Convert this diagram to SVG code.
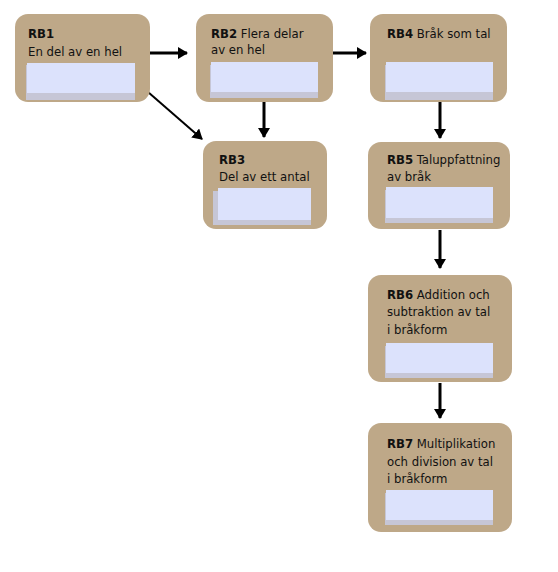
<svg xmlns="http://www.w3.org/2000/svg" width="558" height="572" viewBox="0 0 558 572">
<defs>
<style>
.box{fill:#BEA888}
.sh{fill:#C6C6D6}
.in{fill:#DCE2FC}
text{font-family:"Liberation Sans Narrow","DejaVu Sans Condensed","Liberation Sans",sans-serif;font-size:13px;fill:#111}
.b{font-weight:bold}
.c{stroke:#000;stroke-width:3;fill:none;marker-end:url(#ah)}
.d{stroke-width:2}
</style>
<marker id="ah" viewBox="0 0 10 12" refX="9" refY="6" markerWidth="10" markerHeight="12" orient="auto" markerUnits="userSpaceOnUse">
<path d="M0,0 L10,6 L0,12 z" fill="#000"/>
</marker>
</defs>
<rect width="558" height="572" fill="#fff"/>
<g id="connectors">
<line class="c" x1="150" y1="53" x2="187" y2="53"/>
<line class="c" x1="333" y1="53" x2="366" y2="53"/>
<line class="c d" x1="148" y1="92" x2="202" y2="139"/>
<line class="c" x1="264" y1="102" x2="264" y2="137"/>
<line class="c" x1="440" y1="102" x2="440" y2="138"/>
<line class="c" x1="440" y1="230" x2="440" y2="268"/>
<line class="c" x1="440" y1="383" x2="440" y2="418"/>
</g>
<g id="RB1">
<rect class="box" x="15" y="14" width="135" height="88" rx="13"/>
<rect class="sh" x="26" y="65" width="109" height="35"/>
<rect class="in" x="27" y="63" width="108" height="30"/>
<text x="28" y="38"><tspan class="b">RB1</tspan></text>
<text x="28" y="56">En del av en hel</text>
</g>
<g id="RB2">
<rect class="box" x="196" y="14" width="137" height="88" rx="13"/>
<rect class="sh" x="210" y="65" width="108" height="33"/>
<rect class="in" x="211" y="62" width="107" height="30"/>
<text x="211" y="38"><tspan class="b">RB2</tspan> Flera delar</text>
<text x="211" y="54">av en hel</text>
</g>
<g id="RB4">
<rect class="box" x="370" y="14" width="137" height="88" rx="13"/>
<rect class="sh" x="385" y="65" width="108" height="35"/>
<rect class="in" x="386" y="62" width="107" height="30"/>
<text x="387" y="38"><tspan class="b">RB4</tspan> Bråk som tal</text>
</g>
<g id="RB3">
<rect class="box" x="203" y="141" width="124" height="88" rx="13"/>
<rect class="sh" x="213" y="191" width="98" height="34"/>
<rect class="in" x="218" y="188" width="93" height="32"/>
<text x="219" y="164"><tspan class="b">RB3</tspan></text>
<text x="219" y="181">Del av ett antal</text>
</g>
<g id="RB5">
<rect class="box" x="368" y="142" width="142" height="87" rx="13"/>
<rect class="sh" x="385" y="190" width="108" height="33"/>
<rect class="in" x="386" y="187" width="107" height="31"/>
<text x="387" y="164"><tspan class="b">RB5</tspan> Taluppfattning</text>
<text x="387" y="181">av bråk</text>
</g>
<g id="RB6">
<rect class="box" x="368" y="275" width="144" height="107" rx="13"/>
<rect class="sh" x="385" y="346" width="108" height="32"/>
<rect class="in" x="386" y="343" width="107" height="30"/>
<text x="387" y="299"><tspan class="b">RB6</tspan> Addition och</text>
<text x="387" y="316">subtraktion av tal</text>
<text x="387" y="334">i bråkform</text>
</g>
<g id="RB7">
<rect class="box" x="368" y="423" width="144" height="109" rx="13"/>
<rect class="sh" x="385" y="493" width="108" height="32"/>
<rect class="in" x="386" y="490" width="107" height="30"/>
<text x="387" y="448"><tspan class="b">RB7</tspan> Multiplikation</text>
<text x="387" y="466">och division av tal</text>
<text x="387" y="483">i bråkform</text>
</g>
</svg>
